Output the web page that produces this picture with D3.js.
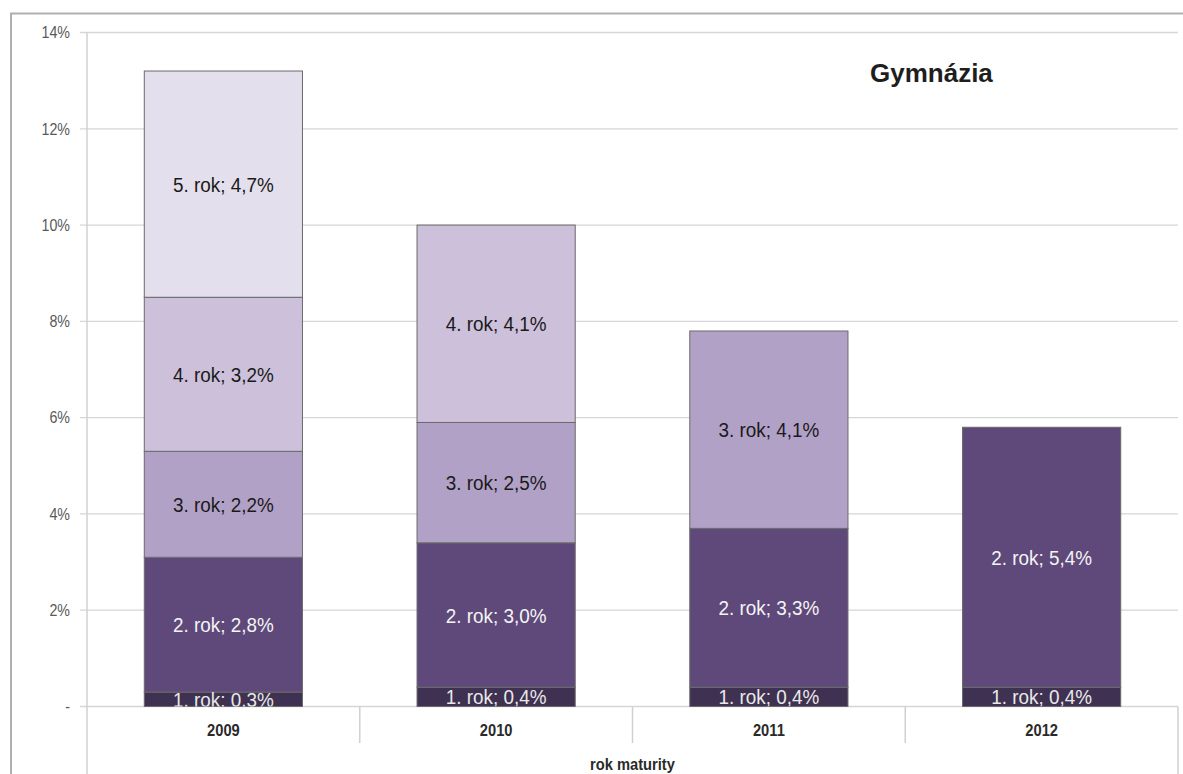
<!DOCTYPE html>
<html>
<head>
<meta charset="utf-8">
<script src="https://cdn.jsdelivr.net/npm/d3@7"></script>
<style>
  html, body { margin: 0; padding: 0; background: #fff; }
  svg { display: block; font-family: "Liberation Sans", Arial, sans-serif; }
</style>
</head>
<body>
<svg id="chart" width="1183" height="774"></svg>
<script>
// Podíl studentů podle roku studia, gymnázia, podle roku maturity
const years = ["2009", "2010", "2011", "2012"];
const seriesNames = ["1. rok", "2. rok", "3. rok", "4. rok", "5. rok"];
const rok1 = [0.3, 0.4, 0.4, 0.4];
const rok2 = [2.8, 3.0, 3.3, 5.4];
const rok3 = [2.2, 2.5, 4.1, 0];
const rok4 = [3.2, 4.1, 0, 0];
const rok5 = [4.7, 0, 0, 0];
const yTicks = [0, 2, 4, 6, 8, 10, 12, 14];
const yTickLabels = ["-", "2%", "4%", "6%", "8%", "10%", "12%", "14%"];
const title = "Gymnázia";
const axisTitle = "rok maturity";

const fills = ["#3f3151", "#5f497a", "#b2a1c7", "#ccc0da", "#e4dfec"];
const labelColors = ["#e8e8e8", "#f4f4f4", "#1a1a1a", "#1a1a1a", "#1a1a1a"];

const seriesValues = [rok1, rok2, rok3, rok4, rok5];
const rows = years.map((y, i) => {
  const r = { year: y };
  seriesNames.forEach((s, k) => { r[s] = seriesValues[k][i]; });
  return r;
});

const svg = d3.select("#chart");
const plot = { left: 87, right: 1178, top: 32.5, bottom: 706.5 };

const x = d3.scaleBand().domain(years).range([plot.left, plot.right])
  .paddingInner(0.42).paddingOuter(0.21);
const y = d3.scaleLinear().domain([0, 14]).range([plot.bottom, plot.top]);

// narrow, slightly tall lettering
const narrow = (sel, sx, sy) =>
  sel.attr("transform", function () {
    const tx = +this.getAttribute("data-x"), ty = +this.getAttribute("data-y");
    return `translate(${tx},${ty}) scale(${sx},${sy})`;
  });

// outer frame (top and left edges)
svg.append("path")
  .attr("d", "M11,774 V13.5 H1183")
  .attr("fill", "none").attr("stroke", "#b0b0b0").attr("stroke-width", 2);

// gridlines + ticks
const grid = svg.append("g");
grid.selectAll("line").data(yTicks).join("line")
  .attr("x1", plot.left - 7).attr("x2", plot.right)
  .attr("y1", d => y(d)).attr("y2", d => y(d))
  .attr("stroke", "#d6d6d6").attr("stroke-width", 1.3);

grid.selectAll("text").data(yTicks).join("text")
  .attr("data-x", 70).attr("data-y", d => y(d))
  .attr("dy", "0.36em")
  .attr("text-anchor", "end")
  .attr("font-size", 15)
  .attr("fill", "#5a5a5a")
  .text((d, i) => yTickLabels[i])
  .call(narrow, 0.95, 1.08);

// value axis line
svg.append("line")
  .attr("x1", plot.left).attr("x2", plot.left)
  .attr("y1", plot.top).attr("y2", 774)
  .attr("stroke", "#d0d0d0").attr("stroke-width", 1.5);

// category separators below the axis
const step = x.step();
const seps = d3.range(1, years.length + 1).map(i => plot.left + i * step);
svg.append("g").selectAll("line").data(seps).join("line")
  .attr("x1", d => d).attr("x2", d => d)
  .attr("y1", plot.bottom)
  .attr("y2", (d, i) => i === seps.length - 1 ? 774 : 743)
  .attr("stroke", "#d0d0d0").attr("stroke-width", 1.5);

// stacked bars
const stack = d3.stack().keys(seriesNames);
const layers = stack(rows);

svg.append("defs").append("clipPath").attr("id", "plotClip")
  .append("rect")
  .attr("x", plot.left).attr("y", plot.top)
  .attr("width", plot.right - plot.left).attr("height", plot.bottom - plot.top);

const bars = svg.append("g");
layers.forEach((layer, k) => {
  bars.append("g")
    .selectAll("rect")
    .data(layer.filter(d => d[1] - d[0] > 0))
    .join("rect")
    .attr("x", d => x(d.data.year))
    .attr("width", x.bandwidth())
    .attr("y", d => y(d[1]))
    .attr("height", d => y(d[0]) - y(d[1]))
    .attr("fill", fills[k])
    .attr("stroke", "#6a6a6a")
    .attr("stroke-width", 1);
});

// segment labels
const fmt = v => d3.format(".1f")(v).replace(".", ",");
const labels = svg.append("g").attr("clip-path", "url(#plotClip)");
layers.forEach((layer, k) => {
  labels.append("g")
    .selectAll("text")
    .data(layer.filter(d => d[1] - d[0] > 0))
    .join("text")
    .attr("data-x", d => x(d.data.year) + x.bandwidth() / 2)
    .attr("data-y", d => (y(d[0]) + y(d[1])) / 2)
    .attr("dy", "0.36em")
    .attr("text-anchor", "middle")
    .attr("font-size", 21)
    .attr("fill", labelColors[k])
    .text(d => `${layer.key}; ${fmt(d[1] - d[0])}%`)
    .call(narrow, 0.9, 1);
});

// category labels
svg.append("g").selectAll("text").data(years).join("text")
  .attr("data-x", d => x(d) + x.bandwidth() / 2)
  .attr("data-y", 730)
  .attr("dy", "0.36em")
  .attr("text-anchor", "middle")
  .attr("font-size", 15)
  .attr("font-weight", "bold")
  .attr("fill", "#2a2a2a")
  .text(d => d)
  .call(narrow, 0.98, 1.1);

svg.append("text")
  .attr("data-x", (plot.left + plot.right) / 2)
  .attr("data-y", 770)
  .attr("text-anchor", "middle")
  .attr("font-size", 15)
  .attr("font-weight", "bold")
  .attr("fill", "#2a2a2a")
  .text(axisTitle)
  .call(narrow, 0.98, 1.1);

svg.append("text")
  .attr("x", 870).attr("y", 82)
  .attr("font-size", 26)
  .attr("font-weight", "bold")
  .attr("fill", "#1e1e1e")
  .text(title);
</script>
</body>
</html>
